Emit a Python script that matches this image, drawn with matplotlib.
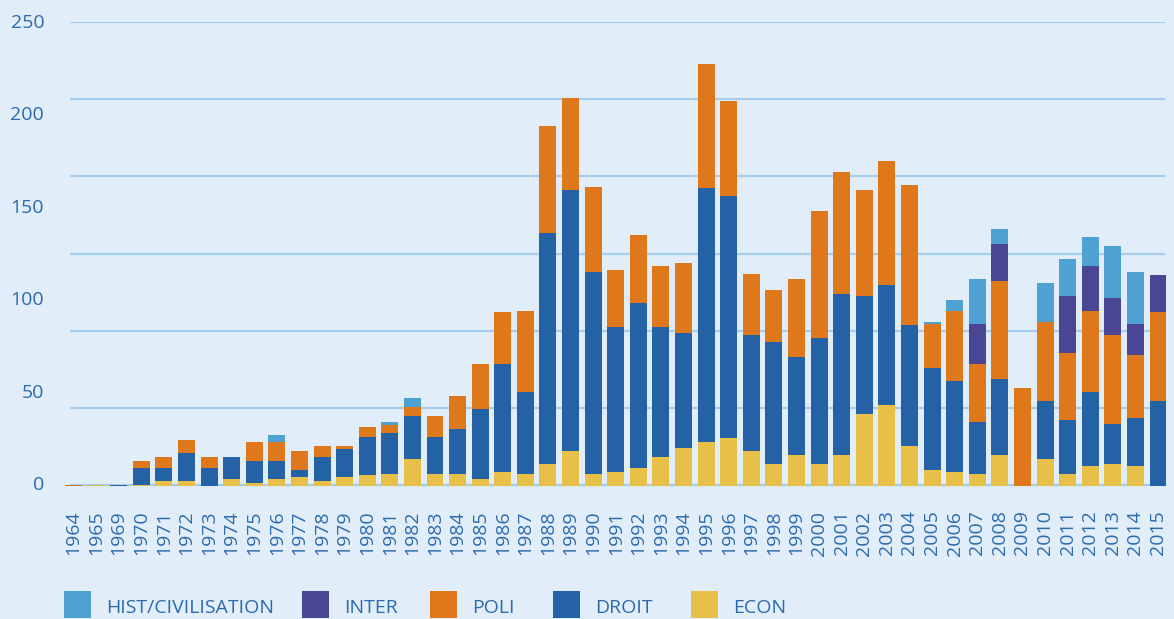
import numpy as np
import matplotlib
matplotlib.use('Agg')
import matplotlib.pyplot as plt
from matplotlib.patches import Rectangle
from matplotlib.transforms import ScaledTranslation

plt.rcParams['font.family'] = ['Open Sans', 'DejaVu Sans']

years = ['1964', '1965', '1969'] + [str(y) for y in range(1970, 2016)]

econ = [0, 1, 0, 1, 3, 3, 0, 4, 2, 4, 5, 3, 5, 6, 7, 15, 7, 7, 4, 8, 7,
        12, 19, 7, 8, 10, 16, 21, 24, 26, 19, 12, 17, 12, 17, 39, 44,
        22, 9, 8, 7, 17, 0, 15, 7, 11, 12, 11, 0]
droit = [0, 0, 1, 9, 7, 15, 10, 12, 12, 10, 4, 13, 15, 21, 22, 23, 20, 24, 38, 58, 44,
         125, 141, 109, 78, 89, 70, 62, 137, 131, 63, 66, 53, 68, 87, 64, 65,
         65, 55, 49, 28, 41, 0, 31, 29, 40, 22, 26, 46]
poli = [1, 0, 0, 4, 6, 7, 6, 0, 10, 10, 10, 6, 2, 5, 4, 5, 11, 18, 24, 28, 44,
        58, 50, 46, 31, 37, 33, 38, 67, 51, 33, 28, 42, 69, 66, 57, 67,
        76, 24, 38, 31, 53, 53, 43, 36, 44, 48, 34, 48]
inter = [0, 0, 0, 0, 0, 0, 0, 0, 0, 0, 0, 0, 0, 0, 0, 0, 0, 0, 0, 0, 0,
         0, 0, 0, 0, 0, 0, 0, 0, 0, 0, 0, 0, 0, 0, 0, 0,
         0, 0, 0, 22, 20, 0, 0, 31, 24, 20, 17, 20]
hist = [0, 0, 0, 0, 0, 0, 0, 0, 0, 4, 0, 0, 0, 0, 2, 5, 0, 0, 0, 0, 0,
        0, 0, 0, 0, 0, 0, 0, 0, 0, 0, 0, 0, 0, 0, 0, 0,
        0, 1, 6, 24, 8, 0, 21, 20, 16, 28, 28, 0]

# stacking order bottom -> top
series = [('ECON', econ, '#E8C048'),
          ('DROIT', droit, '#2461A5'),
          ('POLI', poli, '#DF771B'),
          ('INTER', inter, '#4A4694'),
          ('HIST/CIVILISATION', hist, '#4FA1D1')]

legend_names = ['HIST/CIVILISATION', 'INTER', 'POLI', 'DROIT', 'ECON']
legend_colors = ['#4FA1D1', '#4A4694', '#DF771B', '#2461A5', '#E8C048']
legend_x = [64, 302, 430, 553, 691]   # pixel lefts of the legend squares

bg = '#E1EDF8'
txt = '#2B6BAE'
grid = '#A7CDEE'

W, H = 1174, 619
fig = plt.figure(figsize=(W / 100, H / 100), dpi=100, facecolor=bg)
ax = fig.add_axes([62.2 / W, 1 - 488.35 / H, 1107.1 / W, 466.5 / H])
ax.set_facecolor(bg)

x = np.arange(len(years))
bottom = np.zeros(len(years))
for name, vals, col in series:
    vals = np.array(vals, dtype=float)
    ax.bar(x, vals, 0.75, bottom=bottom, color=col, zorder=3, linewidth=0)
    bottom += vals

ax.set_xlim(-0.5, len(years) - 0.5)
ax.set_ylim(-1, 251)

# grid lines (6 equal steps, not aligned with the labels in the original)
for g in np.linspace(0, 250, 7) + 0.8:
    ax.hlines(g, -0.155, 48.31, color=grid, linewidth=1.6, zorder=1)

ax.set_yticks([0, 50, 100, 150, 200, 250])
ax.set_yticklabels(['0', '50', '100', '150', '200', '250'])
ax.set_xticks(x)
ax.set_xticklabels(years, rotation=90)
ax.tick_params(axis='y', length=0, pad=13, labelsize=14, labelcolor=txt)
ax.tick_params(axis='x', length=0, pad=16, labelsize=14, labelcolor=txt)
for lab in ax.get_yticklabels():
    lab.set_transform(lab.get_transform() + ScaledTranslation(0, 3 / 100, fig.dpi_scale_trans))
for s in ax.spines.values():
    s.set_visible(False)

for name, col, lx in zip(legend_names, legend_colors, legend_x):
    fig.add_artist(Rectangle((lx / W, 1 - 618 / H), 27 / W, 27 / H,
                             transform=fig.transFigure, color=col, linewidth=0))
    fig.text((lx + 42) / W, 1 - 613 / H, name, color=txt, fontsize=14,
             va='baseline', ha='left')

fig.savefig('out.png', dpi=100, facecolor=bg)
